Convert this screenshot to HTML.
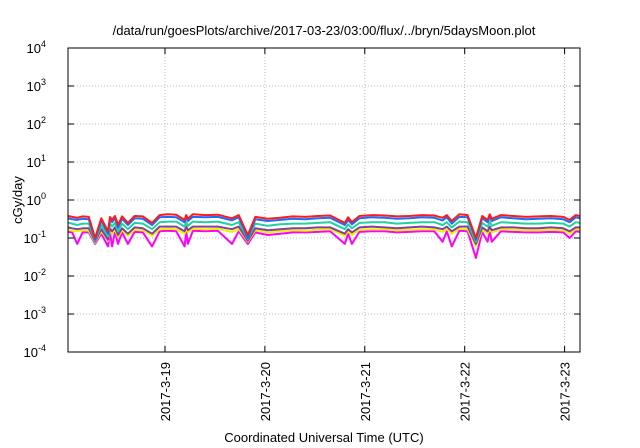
<!DOCTYPE html>
<html><head><meta charset="utf-8"><style>
body{margin:0;background:#fff}
svg{display:block;font-family:"Liberation Sans",sans-serif}
</style></head><body>
<svg id="chart" width="640" height="448" viewBox="0 0 640 448">
<text x="324" y="35" font-size="13" text-anchor="middle">/data/run/goesPlots/archive/2017-03-23/03:00/flux/../bryn/5daysMoon.plot</text>
<g id="grid"></g>
<g id="series"></g>
<rect x="68" y="48" width="512" height="304" fill="none" stroke="#000" stroke-width="1"/>
<g id="axes"></g>
<text transform="translate(22,200) rotate(-90)" font-size="13" text-anchor="middle">cGy/day</text>
<text x="324" y="442" font-size="13" text-anchor="middle">Coordinated Universal Time (UTC)</text>
</svg>
<script>
const yTickExps=[4,3,2,1,0,-1,-2,-3,-4];
const xTickLabels=["2017-3-19","2017-3-20","2017-3-21","2017-3-22","2017-3-23"];
const xTickHours=[23.3,47.3,71.3,95.3,119.3];
const hours=[0,1,2.2,3.5,5,6.5,8,9.6,10.1,10.6,11.3,12,13,14.4,16,18,20.2,22,24,26,28,28.4,28.8,30,33,36,39.4,41,43.2,45,48,51,54,57,60,63,66.5,67.3,68.2,70,73,76,79,82,85,88,90,91,92.2,94,96,98,99.5,100.8,101.3,101.8,104,107,110,113,116,119,120.5,122,123];
const red=[.38,.36,.34,.37,.36,.10,.33,.15,.36,.30,.38,.22,.37,.25,.38,.37,.25,.40,.42,.41,.30,.40,.32,.42,.40,.41,.33,.40,.12,.36,.32,.34,.37,.36,.38,.39,.25,.35,.26,.38,.40,.39,.37,.38,.40,.39,.34,.40,.28,.42,.40,.10,.38,.30,.42,.32,.40,.38,.36,.37,.38,.36,.30,.40,.38];
const blue=[.33,.31,.30,.32,.31,.09,.29,.13,.31,.26,.33,.19,.32,.22,.33,.32,.22,.35,.36,.35,.26,.35,.28,.36,.35,.36,.29,.35,.10,.31,.28,.30,.32,.31,.33,.34,.22,.30,.23,.33,.35,.34,.32,.33,.35,.34,.29,.35,.24,.36,.35,.09,.33,.26,.36,.28,.35,.33,.31,.32,.33,.31,.26,.35,.33];
const teal=[.25,.24,.22,.24,.24,.085,.22,.11,.24,.20,.25,.15,.24,.17,.25,.24,.17,.26,.27,.27,.20,.26,.21,.27,.26,.27,.22,.26,.095,.24,.21,.23,.24,.24,.25,.26,.17,.23,.18,.25,.26,.26,.24,.25,.26,.26,.22,.26,.19,.27,.26,.08,.25,.20,.27,.21,.26,.25,.24,.24,.25,.24,.20,.26,.25];
const purple=[.19,.18,.17,.18,.18,.08,.17,.09,.18,.15,.19,.12,.18,.13,.19,.18,.13,.20,.20,.20,.15,.20,.16,.20,.20,.20,.17,.20,.085,.18,.16,.17,.18,.18,.19,.19,.13,.17,.14,.19,.20,.19,.18,.19,.20,.19,.17,.20,.15,.20,.20,.07,.19,.15,.20,.16,.19,.19,.18,.18,.19,.18,.15,.19,.19];
const yellow=[.165,.155,.15,.16,.155,.075,.15,.085,.155,.13,.165,.105,.16,.115,.165,.16,.115,.17,.175,.17,.13,.17,.14,.175,.17,.175,.145,.17,.08,.16,.14,.15,.16,.155,.165,.17,.115,.15,.12,.165,.17,.17,.16,.165,.17,.17,.145,.17,.13,.175,.17,.06,.165,.13,.175,.14,.17,.165,.16,.16,.165,.16,.13,.17,.165];
const magenta=[.145,.14,.07,.14,.14,.07,.13,.06,.14,.06,.145,.07,.14,.07,.145,.14,.06,.15,.155,.15,.06,.15,.07,.155,.15,.155,.07,.15,.07,.14,.12,.13,.14,.14,.145,.15,.07,.13,.07,.145,.15,.15,.14,.145,.15,.15,.08,.15,.06,.155,.15,.03,.145,.08,.155,.08,.15,.145,.14,.14,.145,.14,.10,.15,.145];
const seriesList=[["magenta",magenta,"#ff00ff"],["yellow",yellow,"#f0f000"],["purple",purple,"#8040a0"],["teal",teal,"#22d0a0"],["blue",blue,"#1a6cff"],["red",red,"#ff1a1a"]];

const NS="http://www.w3.org/2000/svg";
const L=68,R=580,T=48,B=352,H0=0,H1=123;
const xS=h=>L+(h-H0)/(H1-H0)*(R-L);
const yS=v=>T+(4-Math.log10(v))/8*(B-T);
const yE=e=>T+(4-e)/8*(B-T);
function mk(tag,attrs,parent){const el=document.createElementNS(NS,tag);for(const k in attrs)el.setAttribute(k,attrs[k]);parent.appendChild(el);return el;}
const grid=document.getElementById('grid'),axes=document.getElementById('axes'),sg=document.getElementById('series');
yTickExps.forEach(e=>{
  const y=yE(e);
  if(e<4&&e>-4){const g=mk('line',{x1:L,x2:R,y1:y,y2:y,stroke:'#bbb','stroke-dasharray':'1,2'},grid);
    
    }
  const t1=mk('line',{x1:L,x2:L+6,y1:y,y2:y,stroke:'#000'},axes);
  
  
  const t2=mk('line',{x1:R-6,x2:R,y1:y,y2:y,stroke:'#000'},axes);
  
  
  const tx=mk('text',{x:46,y:y+5,'font-size':13,'text-anchor':'end'},axes);
  
  
  tx.textContent='10';
  const sp=mk('tspan',{dy:-6,'font-size':9},tx);sp.textContent=String(e);
});
xTickHours.forEach((h,i)=>{
  const x=xS(h);
  const g=mk('line',{x1:x,x2:x,y1:T,y2:B,stroke:'#bbb','stroke-dasharray':'1,2'},grid);
  
  
  const t1=mk('line',{x1:x,x2:x,y1:B-6,y2:B,stroke:'#000'},axes);
  
  
  const t2=mk('line',{x1:x,x2:x,y1:T,y2:T+6,stroke:'#000'},axes);
  
  
  const tx=mk('text',{transform:`translate(${x+5},${B+10}) rotate(-90)`,'font-size':13,'text-anchor':'end'},axes);
  
  
  tx.textContent=xTickLabels[i];
});
seriesList.forEach(([name,vals,col])=>{
  const pts=vals.map((v,i)=>xS(hours[i]).toFixed(1)+','+yS(v).toFixed(1)).join(' ');
  const p=mk('polyline',{points:pts,fill:'none',stroke:col,'stroke-width':2,'stroke-linejoin':'round'},sg);
  
  
});
</script>
</body></html>
